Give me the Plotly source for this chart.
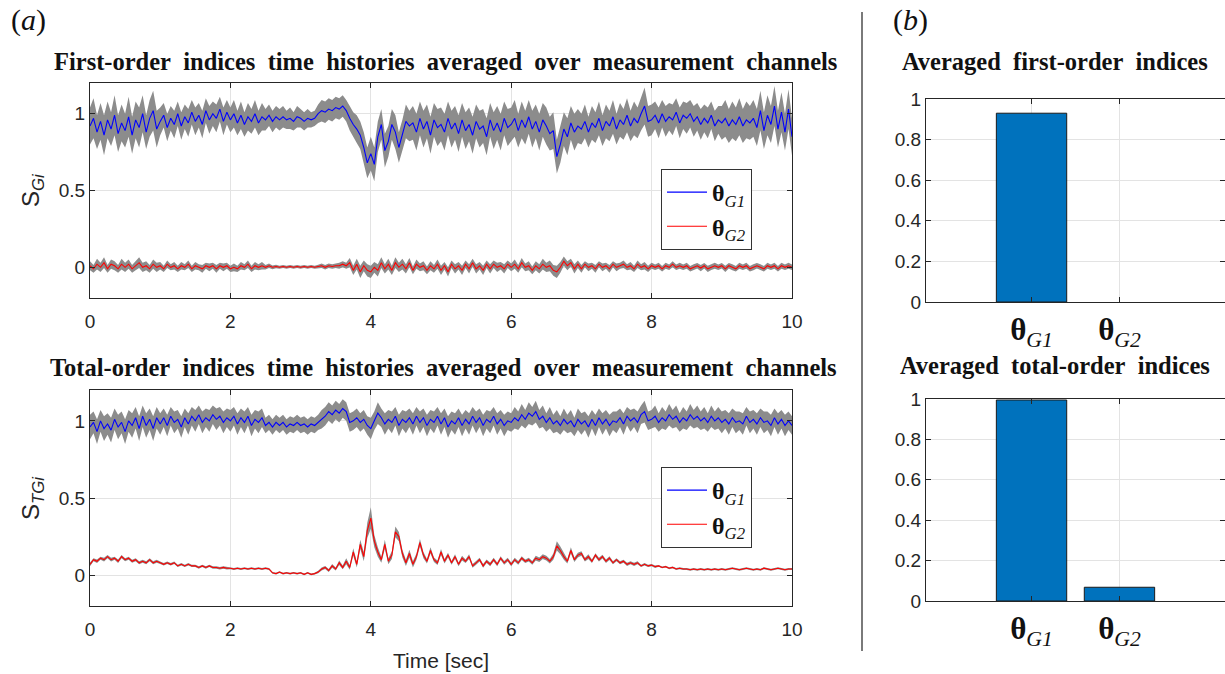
import numpy as np
import plotly.graph_objects as go

W, H = 1225, 674
DT = 0.05  # sampling step of the time histories [sec]

# ---------------- data: first-order indices (mean over channels) ----------------
S_G1_mean = [
    .92, .97, .88, .95, .86, .96, .90, .99, .87, .94, .89, .98, .86, .96, .91, 1.0, .88, .97, 1.02, .90,
    .95, .99, .91, .97, .93, 1.0, .92, .98, .94, 1.01, .95, .99, .93, 1.02, .96, 1.0, .97, 1.03, .95, 1.01,
    .96, 1.0, .94, .99, .93, .98, .95, 1.0, .94, .98, .96, .99, .95, .98, .96, .98, .96, .97, .95, .98,
    .97, .95, .97, .96, .97, 1.0, 1.02, 1.01, 1.03, 1.02, 1.04, 1.03, 1.05, 1.02, .97, .93, .90, .86, .78, .68,
    .74, .67, .85, .93, .76, .82, .93, .88, .78, .86, .95, .92, .94, .88, .97, .90, .95, .86, .96, .91,
    .93, .88, .97, .90, .94, .87, .96, .89, .93, .86, .95, .90, .92, .85, .96, .89, .94, .88, .97, .91,
    .93, .97, .89, .96, .91, .98, .90, .95, .88, .96, .92, .87, .89, .72, .80, .90, .85, .94, .88, .92,
    .90, .95, .88, .94, .91, .97, .89, .95, .92, .98, .90, .96, .93, .99, .92, .97, .94, 1.0, 1.05, .95,
    .96, .99, .94, 1.0, .95, .98, .96, 1.01, .94, .99, .97, 1.0, .95, .98, .93, .97, .94, .99, .92, .96,
    .94, .97, .92, .96, .93, .98, .92, .96, .94, .97, .91, 1.02, .89, .99, .93, 1.05, .90, 1.01, .88, 1.03,
    .85]
S_G1_spread = [
    .12, .13, .11, .12, .13, .12, .11, .13, .12, .12, .11, .13, .12, .12, .13, .12, .11, .12, .13, .12,
    .09, .08, .09, .08, .09, .08, .09, .08, .09, .08, .09, .08, .09, .08, .09, .08, .09, .08, .09, .08,
    .08, .09, .08, .09, .08, .09, .08, .09, .08, .09, .07, .07, .07, .07, .07, .07, .06, .07, .06, .07,
    .06, .06, .06, .05, .05, .06, .07, .07, .07, .07, .07, .07, .07, .07, .08, .08, .09, .09, .10, .10,
    .11, .11, .10, .10, .11, .10, .10, .11, .10, .10, .11, .10, .11, .12, .11, .12, .11, .12, .11, .12,
    .11, .12, .11, .12, .11, .12, .11, .12, .11, .12, .11, .12, .11, .12, .11, .12, .11, .12, .11, .12,
    .11, .12, .11, .12, .11, .11, .12, .11, .12, .11, .12, .11, .12, .11, .12, .11, .12, .11, .12, .11,
    .10, .11, .10, .11, .10, .11, .10, .11, .10, .11, .10, .11, .10, .11, .10, .11, .10, .11, .12, .10,
    .10, .09, .10, .09, .10, .09, .10, .09, .10, .09, .10, .09, .10, .09, .10, .09, .10, .09, .10, .09,
    .11, .12, .11, .12, .11, .12, .11, .12, .11, .12, .12, .13, .12, .13, .12, .13, .12, .13, .12, .13,
    .12]
S_G2_mean = [
    .01, -.01, .02, 0, .03, -.01, .02, .01, -.01, .02, 0, .02, -.01, .01, .03, 0, .01, -.01, .02, 0,
    .01, -.01, .02, 0, .01, -.01, .01, 0, .02, -.01, .01, 0, -.01, .01, 0, .01, -.01, .01, 0, .01,
    -.01, 0, -.01, .01, 0, .02, -.01, .01, 0, .01, 0, .01, 0, .005, 0, .005, 0, .005, 0, .005,
    0, .005, 0, .005, 0, .005, .01, 0, .01, .005, .01, .01, .02, .01, .03, -.02, .02, -.03, .01, -.02,
    -.03, 0, -.02, .03, -.01, .02, -.02, .03, 0, .02, -.01, .03, -.02, .02, 0, .01, -.02, .01, -.01, .02,
    -.02, .01, -.03, .02, -.01, .01, -.02, .02, -.01, .03, -.01, .01, -.02, .02, -.01, .02, 0, .01, -.01, .02,
    0, .02, -.01, .03, 0, .01, -.02, .01, -.01, .02, 0, .01, -.02, -.03, 0, .04, .01, .03, -.01, .02,
    -.01, .02, 0, .01, -.01, .02, 0, .01, -.01, .02, 0, .01, .02, 0, .01, -.01, .02, 0, .01, -.01,
    .01, 0, .01, -.01, .01, 0, .02, 0, .01, 0, .01, -.01, 0, .01, -.005, .01, -.01, 0, .01, 0,
    .01, -.01, .01, 0, -.01, .01, 0, .01, -.01, 0, .01, 0, -.01, .01, 0, .01, -.01, .01, 0, .01,
    0]
S_G2_spread = [
    .03, .025, .035, .03, .035, .025, .03, .03, .025, .035, .03, .03, .025, .03, .035, .03, .03, .025, .03, .03,
    .025, .02, .025, .02, .025, .02, .025, .02, .025, .02, .025, .02, .025, .02, .025, .02, .025, .02, .025, .02,
    .02, .025, .02, .025, .02, .025, .02, .025, .02, .025, .015, .015, .012, .012, .01, .01, .01, .01, .01, .01,
    .01, .01, .01, .01, .01, .012, .015, .015, .015, .015, .015, .02, .02, .02, .03, .03, .035, .04, .035, .04,
    .04, .035, .04, .035, .03, .035, .03, .035, .03, .035, .03, .03, .025, .03, .025, .03, .025, .03, .025, .03,
    .03, .025, .03, .025, .03, .025, .03, .025, .03, .025, .03, .025, .03, .025, .03, .025, .03, .025, .03, .025,
    .025, .03, .025, .03, .025, .03, .025, .03, .03, .035, .03, .035, .035, .04, .035, .03, .03, .025, .03, .025,
    .025, .02, .025, .02, .025, .02, .025, .02, .025, .02, .025, .02, .025, .02, .025, .02, .025, .02, .025, .02,
    .02, .018, .02, .018, .02, .018, .02, .018, .02, .018, .02, .018, .02, .018, .02, .018, .02, .018, .02, .018,
    .018, .02, .018, .02, .018, .02, .018, .02, .018, .02, .018, .02, .018, .02, .018, .02, .018, .02, .018, .02,
    .018]

# ---------------- data: total-order indices (mean over channels) ----------------
S_TG1_mean = [
    .96, .99, .93, 1.0, .95, .98, .94, 1.01, .96, .99, .93, 1.0, .97, 1.02, .95, 1.03, .97, 1.01, .95, 1.02,
    .98, 1.02, .97, 1.03, .99, 1.01, .96, 1.02, .98, 1.03, 1.0, 1.04, .99, 1.02, 1.0, 1.04, 1.01, 1.03, .99, 1.02,
    1.0, 1.03, .98, 1.02, .99, 1.03, .97, 1.01, .99, 1.02, .97, .99, .96, .99, .97, .99, .96, .98, .97, .99,
    .97, .98, .96, .98, .97, .99, 1.01, 1.03, 1.06, 1.04, 1.07, 1.05, 1.08, 1.06, .99, 1.0, 1.02, .99, 1.01, .97,
    .95, 1.0, 1.05, 1.02, .98, 1.01, .99, 1.03, .97, 1.01, .99, 1.02, .98, 1.03, .99, 1.02, .97, 1.01, .99, 1.03,
    .98, 1.02, .96, 1.0, .98, 1.02, .97, 1.01, .98, 1.03, .99, 1.02, .97, 1.01, .99, 1.03, .98, 1.01, .97, 1.0,
    .99, 1.02, 1.0, 1.04, 1.01, 1.05, 1.03, 1.06, 1.01, 1.03, .99, 1.02, .98, 1.0, .97, 1.01, .98, 1.0, .96, 1.01,
    .98, 1.0, .96, 1.01, .97, 1.02, .98, 1.01, .97, 1.0, .99, 1.02, .98, 1.03, 1.0, 1.02, .99, 1.04, 1.06, 1.0,
    1.01, 1.03, .99, 1.02, 1.0, 1.04, 1.01, 1.03, .99, 1.02, 1.0, 1.04, 1.01, 1.03, 1.0, 1.02, .99, 1.03, 1.0, 1.02,
    .99, 1.01, .98, 1.02, .99, 1.0, .98, 1.03, .99, 1.01, .98, 1.02, .99, 1.0, .97, 1.02, .98, 1.01, .97, 1.0,
    .97]
S_TG1_spread = [
    .08, .07, .08, .07, .08, .07, .08, .07, .08, .07, .08, .07, .08, .07, .08, .07, .08, .07, .08, .07,
    .07, .06, .07, .06, .07, .06, .07, .06, .07, .06, .07, .06, .07, .06, .07, .06, .07, .06, .07, .06,
    .07, .06, .07, .06, .07, .06, .07, .06, .07, .06, .05, .05, .05, .05, .05, .05, .05, .05, .05, .05,
    .05, .05, .05, .05, .05, .05, .06, .06, .06, .06, .06, .06, .06, .06, .06, .06, .06, .06, .06, .06,
    .07, .06, .07, .06, .07, .06, .07, .06, .07, .06, .07, .06, .07, .06, .07, .06, .07, .06, .07, .06,
    .07, .06, .07, .06, .07, .06, .07, .06, .07, .06, .07, .06, .07, .06, .07, .06, .07, .06, .07, .06,
    .06, .07, .06, .07, .06, .07, .06, .07, .06, .07, .06, .07, .06, .07, .06, .07, .06, .07, .06, .07,
    .07, .06, .07, .06, .07, .06, .07, .06, .07, .06, .07, .06, .07, .06, .07, .06, .07, .06, .07, .06,
    .06, .07, .06, .07, .06, .07, .06, .07, .06, .07, .06, .07, .06, .07, .06, .07, .06, .07, .06, .07,
    .07, .06, .07, .06, .07, .06, .07, .06, .07, .06, .07, .06, .07, .06, .07, .06, .07, .06, .07, .06,
    .06]
S_TG2_mean = [
    .07, .10, .09, .11, .10, .12, .10, .11, .09, .12, .10, .11, .09, .10, .08, .09, .08, .10, .08, .09,
    .08, .07, .08, .07, .08, .06, .07, .06, .07, .06, .06, .05, .06, .05, .06, .05, .05, .045, .05, .045,
    .045, .04, .045, .04, .045, .04, .045, .04, .045, .04, .045, .04, .015, .01, .02, .01, .015, .01, .015, .01,
    .015, .005, .015, .005, .01, .02, .04, .05, .03, .06, .04, .08, .05, .09, .05, .15, .07, .20, .12, .29,
    .37, .22, .15, .10, .20, .09, .13, .28, .25, .14, .08, .14, .07, .12, .21, .13, .09, .16, .10, .08,
    .15, .09, .13, .08, .12, .07, .11, .09, .12, .06, .08, .10, .06, .09, .07, .10, .07, .11, .08, .10,
    .07, .10, .08, .11, .09, .10, .08, .11, .10, .12, .11, .09, .12, .19, .16, .12, .09, .16, .10, .13,
    .14, .10, .12, .09, .13, .10, .12, .09, .11, .08, .10, .08, .09, .07, .08, .07, .08, .06, .07, .06,
    .065, .055, .06, .05, .055, .045, .05, .04, .045, .04, .04, .035, .04, .035, .04, .035, .04, .035, .04, .035,
    .04, .035, .04, .045, .04, .035, .04, .045, .04, .035, .04, .035, .045, .04, .035, .04, .045, .04, .035, .04,
    .04]
S_TG2_spread = [
    .012, .01, .012, .01, .012, .01, .012, .01, .012, .01, .01, .01, .01, .01, .01, .01, .01, .01, .01, .01,
    .008, .008, .008, .008, .008, .008, .008, .008, .008, .008, .008, .008, .008, .008, .008, .008, .008, .008, .008, .008,
    .006, .006, .006, .006, .006, .006, .006, .006, .006, .006, .006, .006, .006, .006, .006, .006, .006, .006, .006, .006,
    .006, .006, .006, .006, .006, .008, .01, .01, .01, .012, .01, .015, .012, .02, .015, .025, .02, .03, .03, .05,
    .07, .04, .03, .02, .03, .02, .025, .035, .03, .025, .02, .025, .02, .02, .025, .02, .015, .02, .015, .015,
    .02, .015, .015, .012, .015, .012, .015, .012, .015, .012, .012, .012, .012, .012, .012, .012, .012, .012, .012, .012,
    .012, .012, .012, .012, .012, .012, .012, .015, .015, .015, .015, .015, .02, .03, .025, .02, .015, .02, .015, .015,
    .015, .012, .015, .012, .012, .012, .012, .012, .012, .01, .01, .01, .01, .01, .01, .01, .01, .008, .008, .008,
    .008, .008, .006, .006, .006, .006, .006, .006, .006, .006, .006, .006, .006, .006, .006, .006, .006, .006, .006, .006,
    .006, .006, .006, .006, .006, .006, .006, .006, .006, .006, .006, .006, .006, .006, .006, .006, .006, .006, .006, .006,
    .006]

# ---------------- data: averaged indices (bar charts) ----------------
BAR_CATS = [1, 2]
BAR_LABELS = ["<b>θ</b><sub><i>G1</i></sub>", "<b>θ</b><sub><i>G2</i></sub>"]
AVG_FIRST = [0.93, 0.0]
AVG_TOTAL = [0.995, 0.068]

TIME_TICKS = [0, 2, 4, 6, 8, 10]
Y_TICKS_LEFT = [0, 0.5, 1]
Y_TICK_TEXT_LEFT = ["0", "0.5", "1"]
Y_TICKS_BAR = [0, 0.2, 0.4, 0.6, 0.8, 1]
Y_TICK_TEXT_BAR = ["0", "0.2", "0.4", "0.6", "0.8", "1"]

# ---------------- helpers ----------------
def px(x):
    return x / W

def py(y):
    return 1 - y / H

BLUE = "#0000ff"
RED = "#ff0000"
GRAY = "#8c8c8c"
AXC = "#262626"
GRID = "#e3e3e3"
SANS = "Liberation Sans, Arial, sans-serif"
SERIF = "Liberation Serif, Times New Roman, serif"

fig = go.Figure()


def add_band(mean, spread, xa, ya):
    m = np.asarray(mean, dtype=float)
    s = np.asarray(spread, dtype=float)
    t = np.arange(len(m)) * DT
    up = m + s
    lo = m - s
    fig.add_trace(go.Scatter(
        x=np.concatenate([t, t[::-1]]), y=np.concatenate([up, lo[::-1]]),
        fill="toself", fillcolor=GRAY, line=dict(width=0), mode="lines",
        hoverinfo="skip", showlegend=False, xaxis=xa, yaxis=ya))
    return t, m


def add_lines(series, xa, ya, legend):
    lines = []
    for mean, spread, color, name in series:
        lines.append((add_band(mean, spread, xa, ya), color, name))
    for (t, m), color, name in lines:
        fig.add_trace(go.Scatter(
            x=t, y=m, mode="lines", line=dict(color=color, width=1.1),
            name=name, legend=legend, xaxis=xa, yaxis=ya))


add_lines([(S_G1_mean, S_G1_spread, BLUE, BAR_LABELS[0]),
           (S_G2_mean, S_G2_spread, RED, BAR_LABELS[1])], "x", "y", "legend")
add_lines([(S_TG1_mean, S_TG1_spread, BLUE, BAR_LABELS[0]),
           (S_TG2_mean, S_TG2_spread, RED, BAR_LABELS[1])], "x2", "y2", "legend2")


def add_bars(values, xa, ya):
    # no outline for empty bars (nothing is drawn for a zero value)
    widths = [1 if v > 0 else 0 for v in values]
    fig.add_trace(go.Bar(
        x=BAR_CATS, y=values, xaxis=xa, yaxis=ya, width=0.8,
        marker=dict(color="#0072bd", line=dict(color="#1a1a1a", width=widths)),
        showlegend=False, hoverinfo="skip"))


add_bars(AVG_FIRST, "x3", "y3")
add_bars(AVG_TOTAL, "x4", "y4")

common = dict(showgrid=True, gridcolor=GRID, gridwidth=1, zeroline=False,
              showline=True, linecolor=AXC, linewidth=1, mirror="ticks",
              ticks="inside", ticklen=5, tickcolor=AXC, automargin=False,
              tickfont=dict(family=SANS, size=19, color=AXC))

xl = dict(common, range=[0, 10], tickvals=TIME_TICKS, domain=[px(90), px(792)],
          ticklabelstandoff=6)
bar_x = dict(common, range=[-0.2, 3.2], tickvals=BAR_CATS, ticktext=BAR_LABELS,
             tickfont=dict(family=SERIF, size=31, color="#111"), domain=[px(926), 1.0])
fig.update_layout(
    xaxis=dict(xl, anchor="y"),
    yaxis=dict(common, range=[-0.2, 1.2], tickvals=Y_TICKS_LEFT, ticktext=Y_TICK_TEXT_LEFT,
               domain=[py(298), py(83)], anchor="x"),
    xaxis2=dict(xl, anchor="y2",
                title=dict(text="Time [sec]", font=dict(family=SANS, size=21, color=AXC), standoff=14)),
    yaxis2=dict(common, range=[-0.2, 1.2], tickvals=Y_TICKS_LEFT, ticktext=Y_TICK_TEXT_LEFT,
                domain=[py(606), py(390)], anchor="x2"),
    xaxis3=dict(bar_x, anchor="y3"),
    yaxis3=dict(common, range=[0, 1], tickvals=Y_TICKS_BAR, ticktext=Y_TICK_TEXT_BAR,
                domain=[py(302), py(99)], anchor="x3"),
    xaxis4=dict(bar_x, anchor="y4"),
    yaxis4=dict(common, range=[0, 1], tickvals=Y_TICKS_BAR, ticktext=Y_TICK_TEXT_BAR,
                domain=[py(601), py(399)], anchor="x4"),
)

leg = dict(bgcolor="white", bordercolor="#333", borderwidth=1,
           font=dict(family=SERIF, size=24, color="#111"),
           xanchor="left", yanchor="top", itemwidth=40, tracegroupgap=0)
fig.update_layout(
    legend=dict(leg, x=px(661), y=py(169)),
    legend2=dict(leg, x=px(661), y=py(467)),
)


def spaced(s):
    return "<b>" + "&nbsp; ".join(s.split(" ")) + "</b>"


ann = []
title_font = dict(family=SERIF, size=24.5, color="#111")
for text, x, y in [
    ("First-order indices time histories averaged over measurement channels", 445, 62),
    ("Total-order indices time histories averaged over measurement channels", 443, 367),
    ("Averaged first-order indices", 1055, 62),
    ("Averaged total-order indices", 1055, 365),
]:
    ann.append(dict(text=spaced(text), x=px(x), y=py(y), xref="paper", yref="paper",
                    xanchor="center", yanchor="middle", showarrow=False, font=title_font))
for text, x, y in [("(<i>a</i>)", 28, 20), ("(<i>b</i>)", 910, 20)]:
    ann.append(dict(text=text, x=px(x), y=py(y), xref="paper", yref="paper",
                    xanchor="center", yanchor="middle", showarrow=False,
                    font=dict(family=SERIF, size=30, color="#111")))
for text, y in [("S<sub><i>Gi</i></sub>", 190), ("S<sub><i>TGi</i></sub>", 498)]:
    ann.append(dict(text=text, x=px(32), y=py(y), xref="paper", yref="paper",
                    xanchor="center", yanchor="middle", showarrow=False, textangle=-90,
                    font=dict(family=SANS, size=24, color=AXC)))

fig.update_layout(
    annotations=ann,
    shapes=[dict(type="line", xref="paper", yref="paper", x0=px(862), x1=px(862),
                 y0=py(12), y1=py(651), line=dict(color="#7a7a7a", width=2))],
    width=W, height=H, margin=dict(l=0, r=0, t=0, b=0, autoexpand=False),
    paper_bgcolor="white", plot_bgcolor="white", bargap=0.2,
)

fig.write_html("out.html", config={"displayModeBar": False},
               post_script="document.body.style.margin='0px';")
